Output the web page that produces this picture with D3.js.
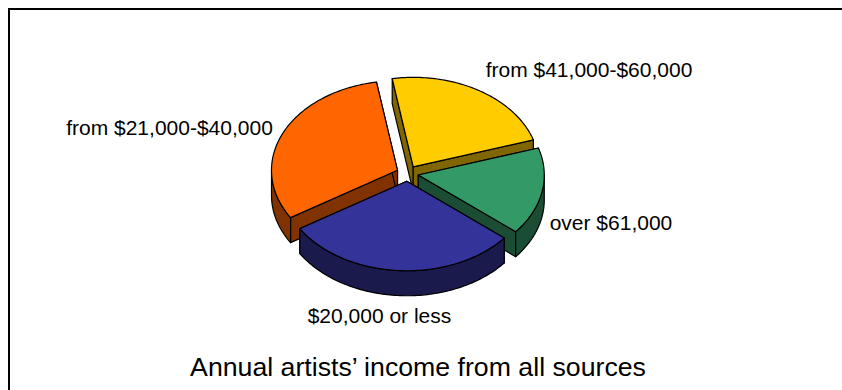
<!DOCTYPE html>
<html>
<head>
<meta charset="utf-8">
<script src="https://cdn.jsdelivr.net/npm/d3@7"></script>
<style>
  html, body { margin: 0; padding: 0; background: #fff; }
  svg { display: block; }
  text { font-family: "Liberation Sans", Arial, sans-serif; fill: #000; }
</style>
</head>
<body>
<svg id="chart" width="842" height="390"></svg>
<script>
// Share of artists per income band, clockwise from the yellow slice
const categories = ["from $41,000-$60,000", "over $61,000", "$20,000 or less", "from $21,000-$40,000"];
const shares = [22.8, 15.8, 30.2, 31.2];
const topColors = ["#FFCC00", "#339966", "#333399", "#FF6600"];
const wallColors = ["#806600", "#1A4D33", "#1A1A4D", "#803300"];
const labelX = [589, 611, 379.5, 169.5];
const labelY = [77, 230, 323, 135];
const drawOrder = [0, 3, 1, 2];

const title = "Annual artists\u2019 income from all sources";

const W = 842, H = 390;
const svg = d3.select("#chart");

// Tilted pie: unit-circle coordinates are projected on to an ellipse
const cx = 407.5, cy = 173.5, rx = 126, ry = 89.5, depth = 25, explode = 0.087;
const sx = d3.scaleLinear().domain([-1, 1]).range([cx - rx, cx + rx]);
const sy = d3.scaleLinear().domain([-1, 1]).range([cy - ry, cy + ry]);

const startAngle = -9.6 * Math.PI / 180;
const arcs = d3.pie().sort(null)
  .startAngle(startAngle).endAngle(startAngle + 2 * Math.PI)(shares);

const line = d3.line().x(p => sx(p[0])).y(p => sy(p[1]) + (p[2] || 0)).curve(d3.curveLinear);

function rim(a0, a1, ox, oy, drop) {
  const n = Math.max(2, Math.ceil(Math.abs(a1 - a0) / 0.02));
  return d3.range(n + 1).map(i => {
    const a = a0 + (a1 - a0) * i / n;
    return [ox + Math.sin(a), oy - Math.cos(a), drop];
  });
}

const PI = Math.PI;

// Chart frame: left and top edges run off the page
svg.append("path")
  .attr("d", `M9,${H} V9 H${W}`)
  .attr("fill", "none").attr("stroke", "#000").attr("stroke-width", 2);

drawOrder.forEach(i => {
  const d = arcs[i];
  const mid = (d.startAngle + d.endAngle) / 2;
  const ox = explode * Math.sin(mid), oy = -explode * Math.cos(mid);
  const g = svg.append("g").attr("stroke", "#000").attr("stroke-width", 1.2).attr("stroke-linejoin", "round");

  // Radial cut faces
  [d.startAngle, d.endAngle].forEach(a => {
    const e = [ox + Math.sin(a), oy - Math.cos(a)];
    g.append("path")
      .attr("d", line([[ox, oy, 0], e.concat(0), e.concat(depth), [ox, oy, depth]]) + "Z")
      .attr("fill", wallColors[i]);
  });

  // Outer wall, only the front half of the rim faces the viewer
  [0, 2 * PI].forEach(turn => {
    const a0 = Math.max(d.startAngle, PI / 2 + turn);
    const a1 = Math.min(d.endAngle, 3 * PI / 2 + turn);
    if (a1 > a0) {
      g.append("path")
        .attr("d", line(rim(a0, a1, ox, oy, 0).concat(rim(a1, a0, ox, oy, depth))) + "Z")
        .attr("fill", wallColors[i]);
    }
  });

  // Top face
  g.append("path")
    .attr("d", line([[ox, oy, 0]].concat(rim(d.startAngle, d.endAngle, ox, oy, 0))) + "Z")
    .attr("fill", topColors[i]);
});

// Slice labels
svg.selectAll("text.label").data(categories).join("text")
  .attr("class", "label")
  .attr("x", (d, i) => labelX[i])
  .attr("y", (d, i) => labelY[i])
  .attr("text-anchor", "middle")
  .attr("font-size", 21)
  .text(d => d);

svg.append("text")
  .attr("x", 418).attr("y", 376)
  .attr("text-anchor", "middle")
  .attr("font-size", 26.7)
  .text(title);
</script>
</body>
</html>
